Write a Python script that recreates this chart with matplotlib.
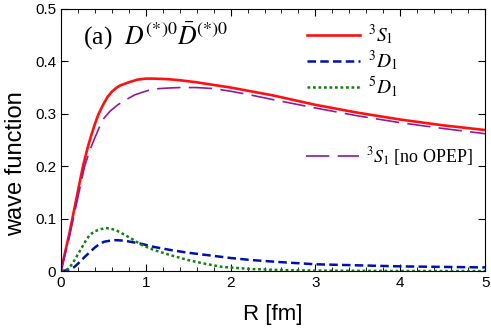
import numpy as np
import matplotlib
matplotlib.use('Agg')
from matplotlib import pyplot as plt
from matplotlib.ticker import MultipleLocator

plt.rcParams['mathtext.fontset'] = 'stix'
plt.rcParams['font.family'] = 'Liberation Sans'

# 3S1 (red, solid)
r_s = [0, 0.05, 0.1, 0.18, 0.26, 0.32, 0.36, 0.4, 0.44, 0.5, 0.55, 0.6, 0.65, 0.7,
       0.8, 0.9, 1.0, 1.1, 1.26, 1.4, 1.6, 1.8, 2.0, 2.2, 2.5, 3.0, 3.5, 4.0, 4.5, 5.0]
s1 = [0, 0.036, 0.072, 0.136, 0.2, 0.238, 0.26, 0.28, 0.298, 0.318, 0.332, 0.342,
      0.349, 0.354, 0.36, 0.365, 0.367, 0.367, 0.366, 0.364, 0.36, 0.355, 0.35,
      0.344, 0.335, 0.317, 0.302, 0.289, 0.278, 0.269]

# 3S1 without OPEP (purple, long dash)
r_n = [0, 0.05, 0.1, 0.2, 0.28, 0.34, 0.4, 0.45, 0.51, 0.58, 0.67, 0.77, 0.87, 0.96,
       1.06, 1.16, 1.26, 1.4, 1.6, 1.8, 2.0, 2.2, 2.5, 3.0, 3.5, 4.0, 4.5, 5.0]
s1_noopep = [0, 0.032, 0.065, 0.14, 0.2, 0.23, 0.254, 0.273, 0.292, 0.305, 0.317,
             0.327, 0.336, 0.341, 0.346, 0.348, 0.349, 0.35, 0.35, 0.348, 0.343,
             0.337, 0.327, 0.311, 0.296, 0.283, 0.272, 0.262]

# 3D1 (blue, dashed)
r_d = [0, 0.05, 0.1, 0.16, 0.22, 0.28, 0.34, 0.4, 0.45, 0.51, 0.58, 0.65, 0.75,
       0.85, 0.95, 1.1, 1.3, 1.5, 1.7, 2.0, 2.25, 2.6, 3.0, 3.5, 4.0, 4.5, 5.0]
d1 = [0, 0.001, 0.003, 0.008, 0.017, 0.027, 0.036, 0.045, 0.051, 0.056, 0.058,
      0.059, 0.058, 0.055, 0.052, 0.046, 0.04, 0.035, 0.031, 0.025, 0.021, 0.017,
      0.013, 0.011, 0.009, 0.008, 0.007]

# 5D1 (green, dotted)
r_5 = [0, 0.05, 0.09, 0.14, 0.19, 0.24, 0.29, 0.34, 0.4, 0.47, 0.53, 0.59, 0.66,
       0.73, 0.82, 0.95, 1.1, 1.3, 1.5, 1.7, 1.9, 2.24, 2.6, 3.0, 3.5, 4.0, 5.0]
d5 = [0, 0.001, 0.005, 0.015, 0.029, 0.043, 0.057, 0.069, 0.076, 0.08, 0.082, 0.081,
      0.077, 0.071, 0.063, 0.05, 0.04, 0.03, 0.021, 0.014, 0.008, 0.004, 0.002,
      0.001, 0.0005, 0.0002, 0]

fig = plt.figure(figsize=(4.91, 3.29), dpi=100)
ax = fig.add_axes([0.124, 0.176, 0.864, 0.797])

l1, = ax.plot(r_s, s1, color='#ff1010', lw=1.9)
l2, = ax.plot(r_d, d1, color='#0010b0', lw=1.8, dashes=(3.4, 1.7))
l3, = ax.plot(r_5, d5, color='#108010', lw=1.8, dashes=(1.1, 1.1))
l4, = ax.plot(r_n, s1_noopep, color='#8e1a9e', lw=1.2, dashes=(14, 5))

ax.set_xlim(0, 5)
ax.set_ylim(0, 0.5)
ax.xaxis.set_major_locator(MultipleLocator(1))
ax.xaxis.set_minor_locator(MultipleLocator(0.2))
ax.yaxis.set_major_locator(MultipleLocator(0.1))
ax.yaxis.set_major_formatter(plt.FuncFormatter(lambda v, p: '0' if v == 0 else '%g' % v))
ax.tick_params(which='both', direction='in', top=True, right=True, labelsize=11)
ax.tick_params(which='major', length=5, width=0.8)
ax.tick_params(which='minor', length=3, width=0.6)
for s in ax.spines.values():
    s.set_linewidth(0.8)

ax.set_xlabel('R [fm]', fontsize=16, labelpad=10)
ax.set_ylabel('wave function', fontsize=17)
ax.yaxis.set_label_coords(-0.08, 0.41)

ax.text(0.052, 0.865, '(a)  $D^{(*)0}\\bar{D}^{(*)0}$', transform=ax.transAxes,
        fontsize=18.5, family='Liberation Serif')

leg1 = ax.legend([l1, l2, l3], ['$^3S_1$', '$^3D_1$', '$^5D_1$'],
                 loc='upper left', bbox_to_anchor=(0.54, 1.015), frameon=False,
                 prop={'family': 'Liberation Serif', 'size': 14},
                 handlelength=2.7, labelspacing=0.05, handletextpad=0.4)
ax.add_artist(leg1)
ax.legend([l4], ['$^3S_1$ [no OPEP]'], loc='upper left',
          bbox_to_anchor=(0.54, 0.542), frameon=False,
          prop={'family': 'Liberation Serif', 'size': 13},
          handlelength=2.9, handletextpad=0.4)

plt.savefig('out.png', dpi=100)
